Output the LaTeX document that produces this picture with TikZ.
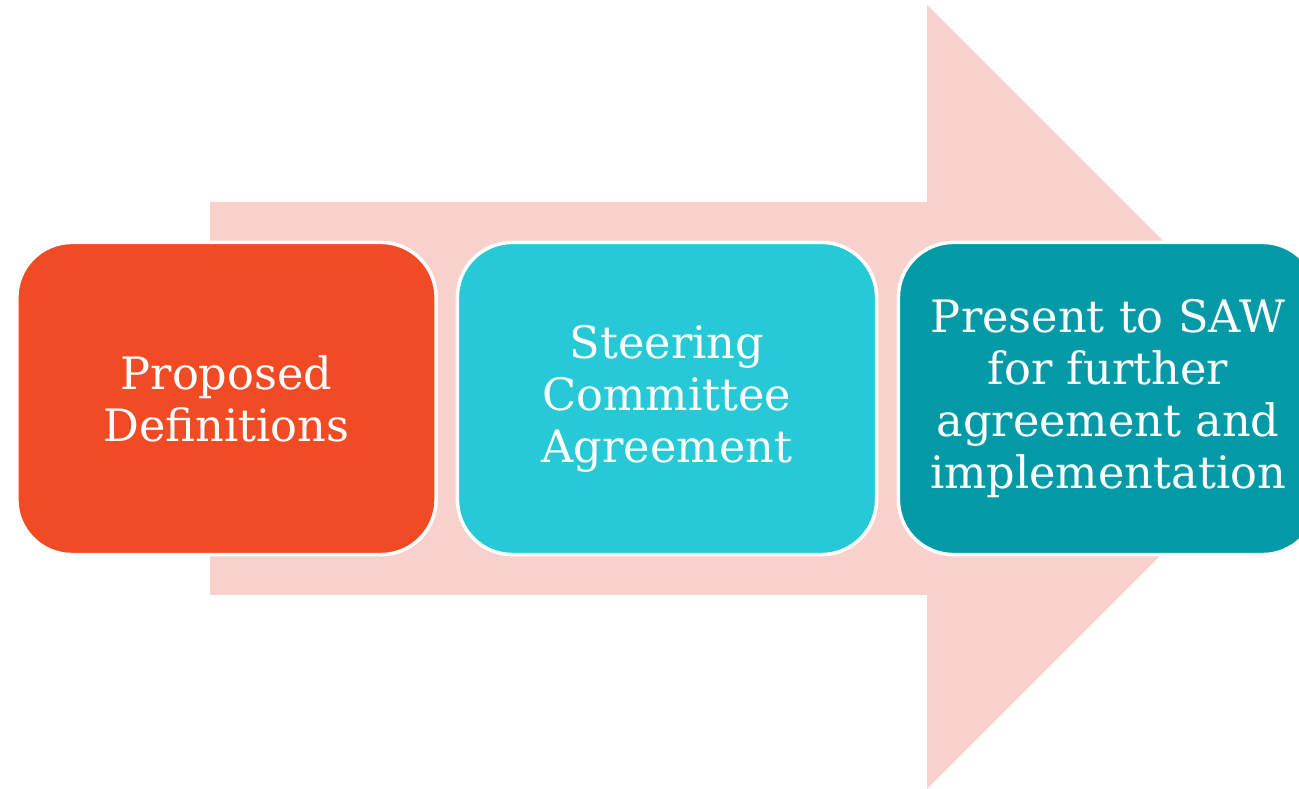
\documentclass[tikz,border=0pt]{standalone}
\usepackage{fontspec}
\setmainfont{DejaVu Serif}
\definecolor{arrowpink}{HTML}{F8D1CD}
\definecolor{stepred}{HTML}{F04B24}
\definecolor{stepcyan}{HTML}{26C9D5}
\definecolor{stepteal}{HTML}{039AA7}
\begin{document}
\begin{tikzpicture}[x=0.01cm, y=-0.01cm, every text node part/.style={align=center}]
        \tikzset{
          stepbox/.style={draw=white, line width=1pt, rounded corners=0.55cm,
            minimum width=4.19cm, minimum height=3.12cm, text=white,
            font=\fontsize{12.7}{14.8}\selectfont},
        }
        \useasboundingbox (0,0) rectangle (1299,789);
        \clip (0,0) rectangle (1299,789);
        % big arrow behind the steps
        \fill[arrowpink] (210,202) -- (927,202) -- (927,5) -- (1319,397)
          -- (927,789) -- (927,595) -- (210,595) -- cycle;
        % steps
        \node[stepbox, fill=stepred] (def) at (226.5,398.5) {Proposed \\ Definitions};
        \node[stepbox, fill=stepcyan] (steer) at (667,398.5) {Steering \\ Committee \\ Agreement};
        \node[stepbox, fill=stepteal] (saw) at (1108,398.5) {Present to SAW \\ for further \\ agreement and \\ implementation};
    \end{tikzpicture}
\end{document}
